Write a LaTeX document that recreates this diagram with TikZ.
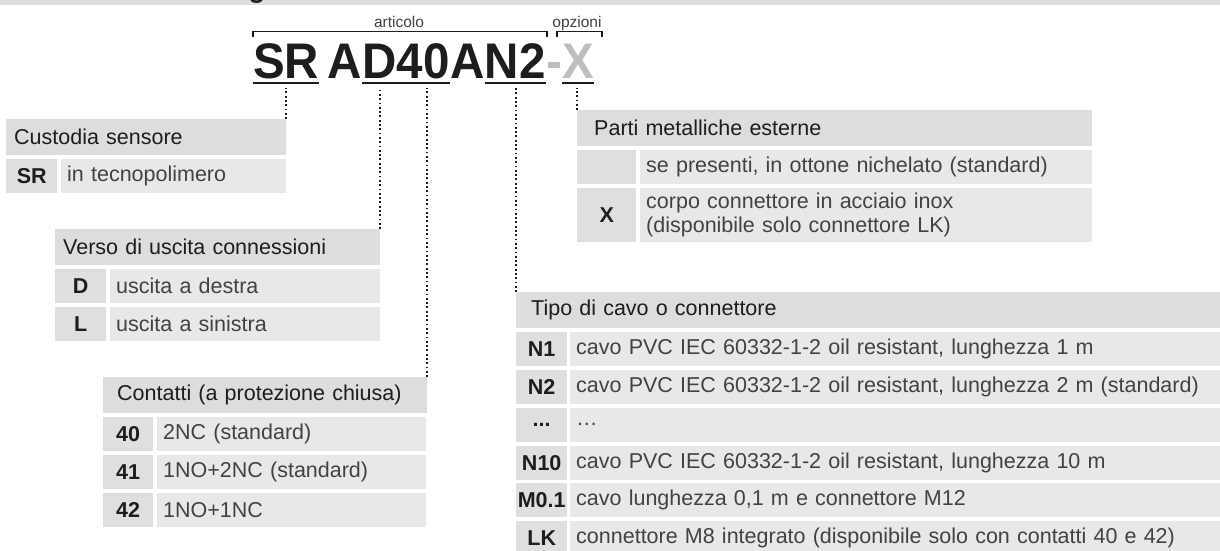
\documentclass[tikz,border=0pt]{standalone}
\usepackage{fontspec}
\setmainfont{Liberation Sans}
\newfontfamily\codefont[FakeStretch=0.95]{Liberation Sans}
\usepackage{tikz}
\definecolor{hdrgray}{RGB}{220,221,223}
\definecolor{keygray}{RGB}{222,223,225}
\definecolor{rowgray}{RGB}{231,232,234}
\definecolor{inkdark}{RGB}{30,28,29}
\definecolor{inklight}{RGB}{66,66,68}
\definecolor{optgray}{RGB}{190,190,192}
\newcommand{\tabfont}{\fontsize{21.5}{24}\selectfont}
\newcommand{\puntini}{...}

\begin{document}
\begin{tikzpicture}[x=1pt,y=-1pt,
  hdr/.style={fill=hdrgray,anchor=north west,minimum height=36pt,inner xsep=8pt,inner ysep=0pt,align=left,text=inkdark,font=\tabfont},
  keycell/.style={fill=keygray,anchor=north west,minimum width=51pt,minimum height=34pt,inner sep=0pt,text=inkdark,font=\tabfont\bfseries},
  desccell/.style={fill=rowgray,anchor=north west,minimum height=34pt,inner xsep=6pt,inner ysep=0pt,align=left,text=inklight,font=\tabfont},
  code/.style={anchor=base west,inner sep=0pt,text=inkdark,font=\codefont\fontsize{50}{50}\selectfont\bfseries},
  uline/.style={inkdark,line width=2.3pt},
  dotline/.style={inkdark,line width=2pt,dash pattern=on 1.8pt off 2.5pt,shorten >=10pt},
  brk/.style={inkdark,line width=1.3pt},
  lbl/.style={anchor=base,inner sep=0pt,text=inklight,font=\fontsize{15.5}{18}\selectfont}]
  % --- Cadre ---
  \useasboundingbox (0,0) rectangle (1220,550);
  \clip (0,0) rectangle (1220,550);

  % --- Bandeau du titre (coupé) ---
  \fill[hdrgray] (0,0) rectangle (1220,4.5);
  \node[anchor=base,inner sep=0pt,font=\fontsize{28}{28}\selectfont\bfseries,text=inkdark] (titleg) at (257,-2.5) {g};

  % --- Code article ---
  \node[code] (sr) at (253,78) {SR};
  \node[code] (a1) at ([xshift=8pt]sr.base east) {A};
  \node[code] (d) at (a1.base east) {D};
  \node[code] (n40) at (d.base east) {40};
  \node[code] (a2) at (n40.base east) {A};
  \node[code] (n2) at (a2.base east) {N2};
  \node[code,text=optgray] (dash) at (n2.base east) {-};
  \node[code,text=optgray] (x) at (dash.base east) {X};
  \foreach \seg in {sr,d,n40,n2,x}
    \draw[uline] ([yshift=-5pt]\seg.base west) -- ([yshift=-5pt]\seg.base east);

  % crochets articolo / opzioni
  \draw[brk] (253,37) -- (253,31.7) -- (547,31.7) -- (547,37);
  \draw[brk] (557,37) -- (557,31.7) -- (602,31.7) -- (602,37);
  \node[lbl] (articolo) at (399,27) {articolo};
  \node[lbl] (opzioni) at (577,27) {opzioni};

  % --- Custodia sensore ---
  \node[hdr,text width=264pt] (custodia) at (6,119) {Custodia sensore};
  \node[keycell] (custodia-k) at (6,159) {SR};
  \node[desccell,text width=213pt] (custodia-d) at (61,159) {in tecnopolimero};

  % --- Verso di uscita ---
  \node[hdr,text width=309pt] (verso) at (55,229) {Verso di uscita connessioni};
  \foreach \k/\t [count=\i from 0] in {D/uscita a destra,L/uscita a sinistra}{%
    \node[keycell] (verso-k\i) at (55,269+37.8*\i) {\k};
    \node[desccell,text width=258pt] (verso-d\i) at (110,269+37.8*\i) {\t};
  }

  % --- Contatti ---
  \node[hdr,inner xsep=14pt,text width=296pt] (contatti) at (103,377) {Contatti (a protezione chiusa)};
  \foreach \k/\t [count=\i from 0] in {40/2NC (standard),41/1NO+2NC (standard),42/1NO+1NC}{%
    \node[keycell,minimum width=50pt] (contatti-k\i) at (103,417+37.8*\i) {\k};
    \node[desccell,text width=257pt] (contatti-d\i) at (157,417+37.8*\i) {\t};
  }

  % --- Parti metalliche ---
  \node[hdr,inner xsep=17pt,text width=481pt] (parti) at (577,110) {Parti metalliche esterne};
  \node[keycell,minimum width=59pt] (parti-k0) at (577,150) {};
  \node[desccell,text width=440pt] (parti-d0) at (640,150) {se presenti, in ottone nichelato (standard)};
  \node[keycell,minimum width=59pt,minimum height=54pt] (parti-k1) at (577,187.8) {X};
  \node[desccell,text width=440pt,minimum height=54pt] (parti-d1) at (640,187.8)
    {corpo connettore in acciaio inox\\(disponibile solo connettore LK)};

  % --- Tipo di cavo ---
  \node[hdr,inner xsep=15pt,text width=674pt] (tipo) at (516,292) {Tipo di cavo o connettore};
  \foreach \k/\t [count=\i from 0] in {%
      N1/{cavo PVC IEC 60332-1-2 oil resistant, lunghezza 1 m},
      N2/{cavo PVC IEC 60332-1-2 oil resistant, lunghezza 2 m (standard)},
      \puntini/\ldots,
      N10/{cavo PVC IEC 60332-1-2 oil resistant, lunghezza 10 m},
      M0.1/{cavo lunghezza 0,1 m e connettore M12},
      LK/{connettore M8 integrato (disponibile solo con contatti 40 e 42)}}{%
    \node[keycell] (tipo-k\i) at (516,332+37.8*\i) {\k};
    \node[desccell,text width=638pt] (tipo-d\i) at (570,332+37.8*\i) {\t};
  }

  % --- Renvois pointillés ---
  \draw[dotline] (custodia.north east) -- (custodia.north east |- sr.base);
  \draw[dotline] (verso.north east) -- (verso.north east |- d.base);
  \draw[dotline] (contatti.north east) -- (contatti.north east |- n40.base);
  \draw[dotline] (tipo.north west) -- (tipo.north west |- n2.base);
  \draw[dotline] (parti.north west) -- (parti.north west |- x.base);
\end{tikzpicture}
\end{document}
